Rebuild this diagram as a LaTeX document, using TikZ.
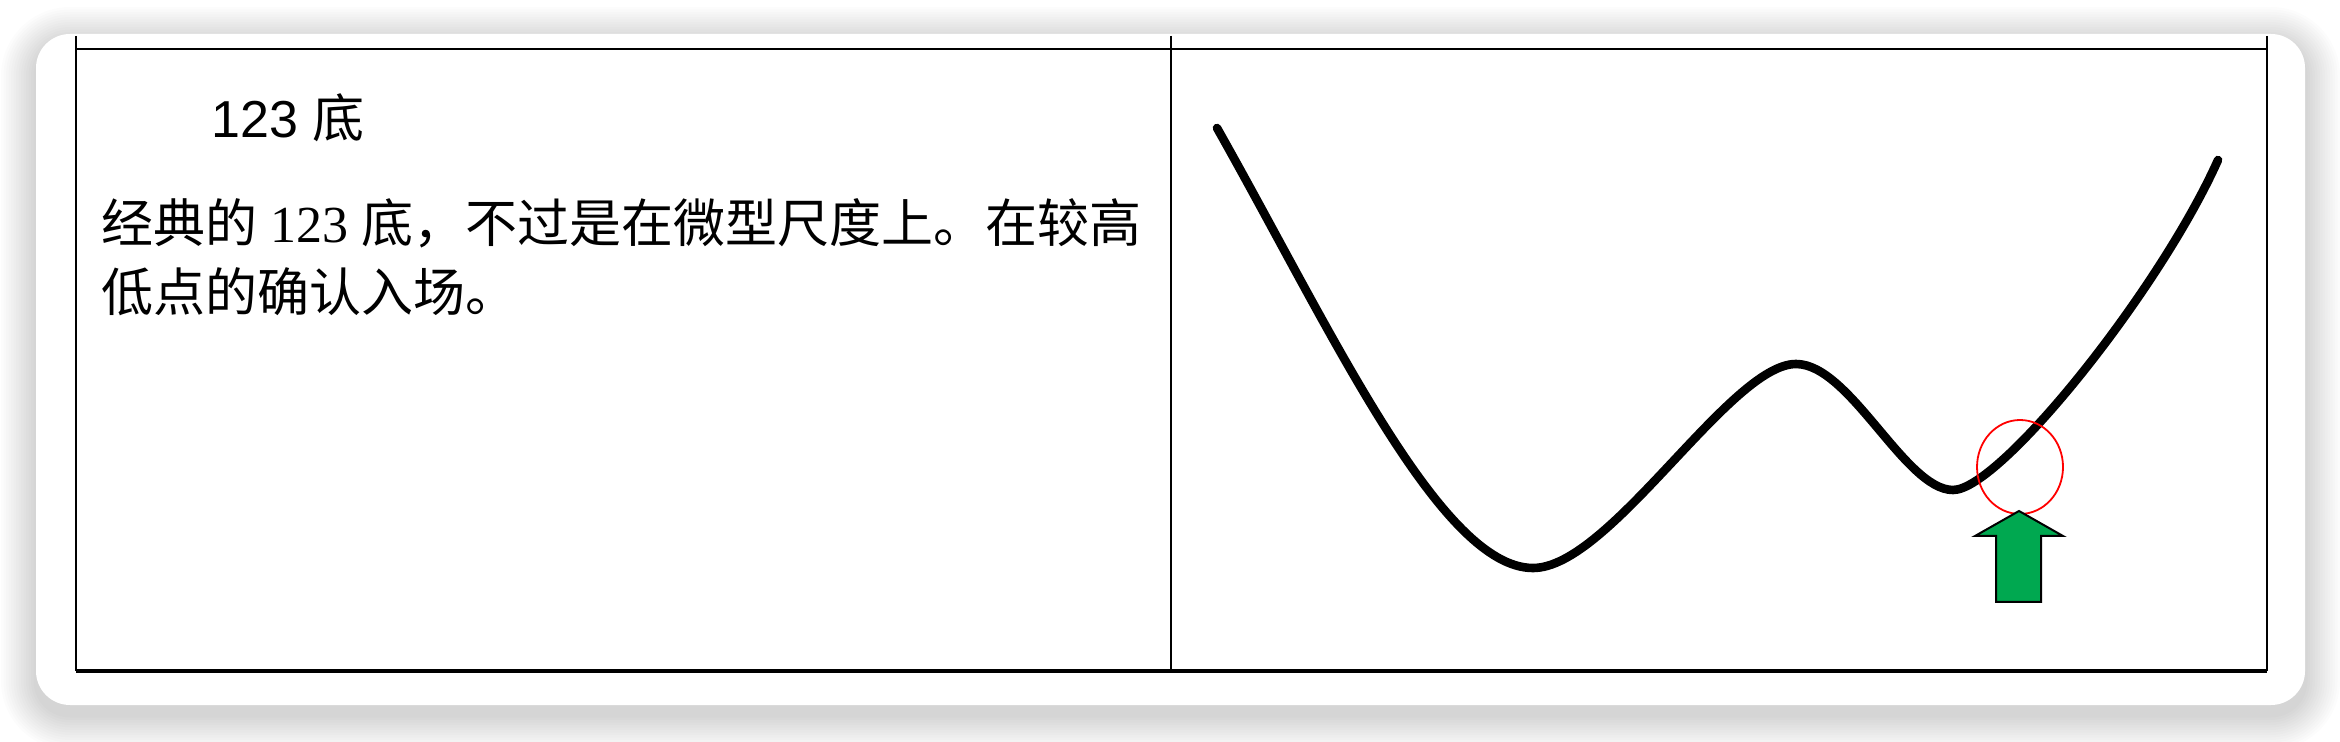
\documentclass[tikz,border=0pt]{standalone}
\usepackage{fontspec}
\setmainfont{Liberation Serif}
\newfontfamily\cjk{Noto Sans CJK SC}
\newfontfamily\arialf{Liberation Sans}
\definecolor{arrowgreen}{RGB}{0,168,80}
\begin{document}
\begin{tikzpicture}[x=0.5pt,y=-0.5pt,
  tableline/.style={black, line width=1pt},
  bodytext/.style={anchor=base west, inner sep=0pt, font=\fontsize{26}{30}\selectfont},
  titletext/.style={anchor=base west, inner sep=0pt, font=\fontsize{26}{30}\selectfont},
  wave/.style={black, line width=4.3pt, line cap=round, line join=round},
  mark circle/.style={red, line width=0.9pt},
  up arrow/.style={draw=black, fill=arrowgreen, line width=1pt, line join=miter}]
\fill[white] (0,0) rectangle (2340,742);
\useasboundingbox (0,0) rectangle (2340,742);
% shadow
\foreach \i in {1,...,14} {
  \fill[black, opacity=0.010, rounded corners={17pt+1.25pt*\i}]
    (36-2.5*\i, 42-2.5*\i) rectangle (2305+2.5*\i, 715+2.5*\i);
}
% card
\fill[white, rounded corners=17pt] (36,34) rectangle (2305,705);
% table
\coordinate (tl) at (76,36);
\coordinate (tm) at (1171,36);
\coordinate (tr) at (2267,36);
\coordinate (bl) at (76,671);
\coordinate (bm) at (1171,671);
\coordinate (br) at (2267,671);
\coordinate (hl) at (76,49);
\coordinate (hr) at (2267,49);
\draw[tableline] (tl) -- (bl);
\draw[tableline] (tm) -- (bm);
\draw[tableline] (tr) -- (br);
\draw[tableline] (hl) -- (hr);
\draw[tableline, line width=1.5pt] (bl) -- (br);
% texts
\node[titletext] (title) at (211,138) {\arialf 123 \cjk 底};
\node[bodytext] (line1) at (101,243) {{\cjk 经典的} 123 {\cjk 底，不过是在微型尺度上。在较高}};
\node[bodytext] (line2) at (101,312) {\cjk 低点的确认入场。};
% curve
\coordinate (s) at (1217,128);
\coordinate (m1) at (1533,568);
\coordinate (pk) at (1796,364);
\coordinate (m2) at (1953,490);
\coordinate (e) at (2218,160);
\draw[wave] (s) .. controls (1330,328) and (1440,568) .. (m1)
  .. controls (1610,568) and (1730,364) .. (pk)
  .. controls (1850,364) and (1905,490) .. (m2)
  .. controls (2000,490) and (2160,290) .. (e);
% red circle
\draw[mark circle] (2020,467) ellipse [x radius=43, y radius=47];
% green arrow
\draw[up arrow] (2019,511) -- (2063,536) -- (2041,536) -- (2041,602)
  -- (1996,602) -- (1996,536) -- (1975,536) -- cycle;
\end{tikzpicture}
\end{document}
